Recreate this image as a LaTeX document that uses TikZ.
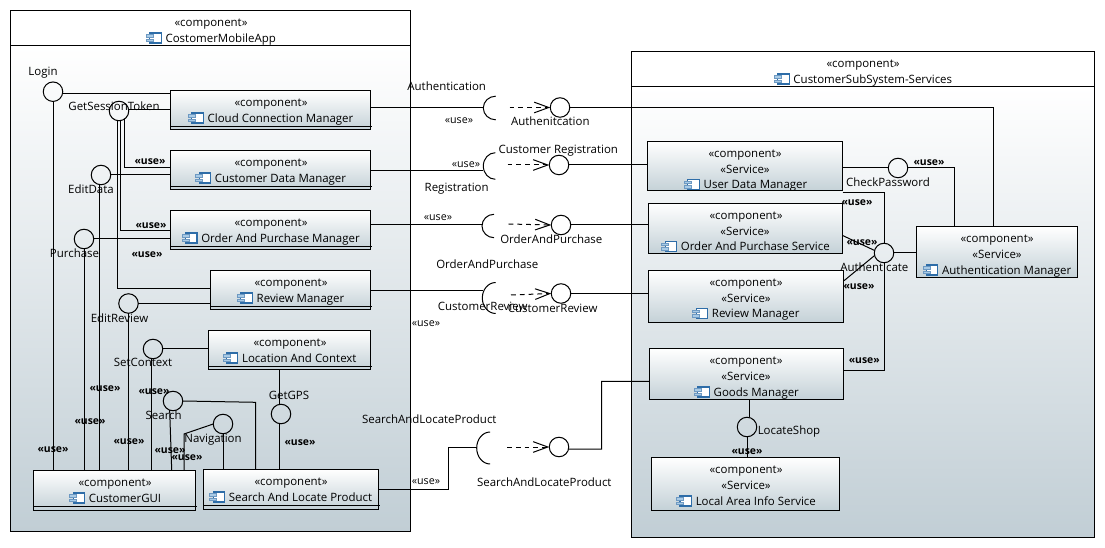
\documentclass[tikz,border=0pt]{standalone}
\usepackage{fontspec}
\setmainfont{Open Sans}
\usetikzlibrary{arrows.meta}

\definecolor{panelLow}{HTML}{C1CED5}
\definecolor{boxLow}{HTML}{C4D1D7}
\definecolor{iconBlue}{HTML}{2E6DA8}
\definecolor{tabBlue}{HTML}{A9CBE6}

\begin{document}
\begin{tikzpicture}[
    x=.75pt, y=-.75pt, every node/.style={font=\fontsize{8.6}{10}\selectfont, inner sep=0pt, text height=6.2pt, text depth=0pt},
    sized/.style 2 args={minimum width=#1*.75pt, minimum height=#2*.75pt},
    panelHead/.style={rectangle, draw=black, line width=.75pt, fill=white, outer sep=0pt},
    panelBody/.style={rectangle, draw=black, line width=.75pt, top color=white, bottom color=panelLow, outer sep=0pt},
    compBox/.style={rectangle, draw=black, line width=.75pt, top color=white, bottom color=boxLow, outer sep=0pt},
    iface/.style={circle, draw=black, line width=.75pt, minimum size=19.5*.75pt, outer sep=0pt},
    conn/.style={draw=black, line width=.75pt},
    depend/.style={draw=black, line width=.75pt, dash pattern=on 3.6pt off 3pt, -{Straight Barb[length=11pt, width=8pt, line width=.75pt]}},
    useBold/.style={font=\fontsize{7.8}{10}\selectfont\bfseries},
    useThin/.style={font=\fontsize{8}{10}\selectfont},
    compicon/.pic={
        \draw[iconBlue, fill=white, line width=.8pt] (-11.5,-5) rectangle (0,5);
        \draw[iconBlue!70, fill=tabBlue, line width=.4pt] (-15,-3.5) rectangle (-8,-1);
        \draw[iconBlue!70, fill=tabBlue, line width=.4pt] (-15,1) rectangle (-8,3.5);
    }
]
    \useasboundingbox (0,0) rectangle (1105,548);

    % left panel
    \node[panelBody, sized={400}{485}] (appBody) at (210.5,288.5) {};
    \node[panelHead, sized={400}{35.5}] (appHead) at (210.5,28.25) {};
    \node (appT) at (211,22) {«component»};
    \node (appN) at (220.7,38) {CostomerMobileApp};
    \path ([xshift=-3pt]appN.west) pic {compicon};

    % right panel
    \node[panelBody, sized={462.5}{450}] (subBody) at (862.75,312) {};
    \node[panelHead, sized={462.5}{35}] (subHead) at (862.75,69.5) {};
    \node (subT) at (863,63.3) {«component»};
    \node (subN) at (872.8,79) {CustomerSubSystem-Services};
    \path ([xshift=-3pt]subN.west) pic {compicon};

    % components, left
    \node[compBox, sized={200}{39.5}] (cloud) at (270.5,110.25) {};
    \node (cloudT) at (271,102) {«component»};
    \node (cloudN) at (280.5,118) {Cloud Connection Manager};
    \path ([xshift=-3pt]cloudN.west) pic {compicon};
    \draw[conn] (170.5,126.5) -- (371.5,126.5);

    \node[compBox, sized={200}{39.5}] (custData) at (270.5,170.25) {};
    \node (custDataT) at (271,162) {«component»};
    \node (custDataN) at (280.5,178) {Customer Data Manager};
    \path ([xshift=-3pt]custDataN.west) pic {compicon};
    \draw[conn] (170.5,186.5) -- (371.5,186.5);

    \node[compBox, sized={200}{39.5}] (orderMgr) at (270.5,230.25) {};
    \node (orderMgrT) at (271,222) {«component»};
    \node (orderMgrN) at (280.5,238) {Order And Purchase Manager};
    \path ([xshift=-3pt]orderMgrN.west) pic {compicon};
    \draw[conn] (170.5,246.5) -- (371.5,246.5);

    \node[compBox, sized={160}{39.5}] (reviewMgr) at (290.5,290.25) {};
    \node (reviewMgrT) at (291,282) {«component»};
    \node (reviewMgrN) at (300.5,298) {Review Manager};
    \path ([xshift=-3pt]reviewMgrN.west) pic {compicon};
    \draw[conn] (210.5,306.5) -- (371.5,306.5);

    \node[compBox, sized={162}{39.5}] (location) at (289.5,350.25) {};
    \node (locationT) at (290,342) {«component»};
    \node (locationN) at (299.3,358) {Location And Context};
    \path ([xshift=-3pt]locationN.west) pic {compicon};
    \draw[conn] (208.5,366.5) -- (371.5,366.5);

    \node[compBox, sized={162}{40}] (gui) at (114.5,490) {};
    \node (guiT) at (115,482) {«component»};
    \node (guiN) at (125,498) {CustomerGUI};
    \path ([xshift=-3pt]guiN.west) pic {compicon};
    \draw[conn] (33.5,506.5) -- (196.5,506.5);

    \node[compBox, sized={175}{39.5}] (locate) at (291,489.25) {};
    \node (locateT) at (291,481) {«component»};
    \node (locateN) at (300.5,497) {Search And Locate Product};
    \path ([xshift=-3pt]locateN.west) pic {compicon};
    \draw[conn] (203.5,505.5) -- (379.5,505.5);

    % components, right
    \node[compBox, sized={195}{49.5}] (userData) at (745,166.25) {};
    \node (userDataT) at (745,153.3) {«component»};
    \node (userDataS) at (745,169) {«Service»};
    \node (userDataN) at (755.5,184.7) {User Data Manager};
    \path ([xshift=-3pt]userDataN.west) pic {compicon};

    \node[compBox, sized={194}{50}] (orderSvc) at (745.5,228.5) {};
    \node (orderSvcT) at (746,215.3) {«component»};
    \node (orderSvcS) at (745,231) {«Service»};
    \node (orderSvcN) at (755.3,246.7) {Order And Purchase Service};
    \path ([xshift=-3pt]orderSvcN.west) pic {compicon};

    \node[compBox, sized={195}{52}] (reviewSvc) at (746,296.5) {};
    \node (reviewSvcT) at (746,282.3) {«component»};
    \node (reviewSvcS) at (746,298) {«Service»};
    \node (reviewSvcN) at (755.7,313.7) {Review Manager};
    \path ([xshift=-3pt]reviewSvcN.west) pic {compicon};

    \node[compBox, sized={161}{51.5}] (authMgr) at (997,252.25) {};
    \node (authMgrT) at (997,238.3) {«component»};
    \node (authMgrS) at (997,254) {«Service»};
    \node (authMgrN) at (1006.7,270) {Authentication Manager};
    \path ([xshift=-3pt]authMgrN.west) pic {compicon};

    \node[compBox, sized={194}{51}] (goods) at (746.5,374) {};
    \node (goodsT) at (746,360) {«component»};
    \node (goodsS) at (746,376) {«Service»};
    \node (goodsN) at (756.3,392) {Goods Manager};
    \path ([xshift=-3pt]goodsN.west) pic {compicon};

    \node[compBox, sized={188}{52.5}] (localArea) at (745.5,483.75) {};
    \node (localAreaT) at (746,469) {«component»};
    \node (localAreaS) at (746,485) {«Service»};
    \node (localAreaN) at (755.8,501) {Local Area Info Service};
    \path ([xshift=-3pt]localAreaN.west) pic {compicon};

    % provided interfaces, left
    \node[iface] (login) at (53,91.7) {};
    \node[iface] (token) at (119,111) {};
    \node[iface] (editData) at (101,175) {};
    \node[iface] (purchase) at (84,239) {};
    \node[iface] (editReview) at (128.5,303.5) {};
    \node[iface] (setContext) at (153,349) {};
    \node[iface] (search) at (173,401) {};
    \node[iface] (navigation) at (223,424) {};
    \node[iface] (getGps) at (281,414) {};

    % provided interfaces, right
    \node[iface] (ifAuth) at (560,107.5) {};
    \node[iface] (ifReg) at (559,165) {};
    \node[iface] (ifOrder) at (561,225) {};
    \node[iface] (ifReview) at (561,293.5) {};
    \node[iface] (ifLocate) at (559,447) {};
    \node[iface] (checkPwd) at (898,168) {};
    \node[iface] (authIf) at (884,253) {};
    \node[iface] (locShop) at (747,427) {};

    % sockets
    \coordinate (sockAuth) at (483.3,108);
    \coordinate (sockReg) at (483.3,166);
    \coordinate (sockOrder) at (482,226);
    \coordinate (sockReview) at (482.3,298);
    \coordinate (sockLocate) at (476.7,448);
    \draw[conn] (sockAuth) ++(12.4,-11.8) arc[start angle=-90, end angle=-270, x radius=12.4, y radius=11.8];
    \draw[conn] (sockReg) ++(12,-13.3) arc[start angle=-90, end angle=-270, x radius=12, y radius=13.3];
    \draw[conn] (sockOrder) ++(12,-11.7) arc[start angle=-90, end angle=-270, x radius=12, y radius=11.7];
    \draw[conn] (sockReview) ++(13.4,-15.5) arc[start angle=-90, end angle=-270, x radius=13.4, y radius=15.5];
    \draw[conn] (sockLocate) ++(13.4,-16) arc[start angle=-90, end angle=-270, x radius=13.4, y radius=16];

    % dependencies
    \coordinate (dashAuth) at (509.5,107.5);
    \coordinate (dashReg) at (507.5,165);
    \coordinate (dashOrder) at (508.5,224);
    \coordinate (dashReview) at (511,295);
    \coordinate (dashLocate) at (507,447);
    \draw[depend] (dashAuth) -- (ifAuth.west);
    \draw[depend] (dashReg) -- (ifReg.west);
    \draw[depend] (dashOrder) -- (ifOrder.west);
    \draw[depend] (dashReview) -- (ifReview.west);
    \draw[depend] (dashLocate) -- (ifLocate.west);

    % connectors, left
    \draw[conn] (login.-10) -- (cloud.west |- login.-10);
    \draw[conn] (login.south) -- (login.south |- gui.north);
    \draw[conn] (token.10) -- (cloud.west |- token.10);
    \draw[conn] (token.-57) |- ([yshift=1.9pt]custData.west);
    \draw[conn] (token.-82) |- (orderMgr.west);
    \draw[conn] (token.-98) |- ([yshift=1.5pt]reviewMgr.west);
    \draw[conn] (editData.east) -- (custData.west |- editData.east);
    \draw[conn] (editData.-100) -- (editData.-100 |- gui.north);
    \draw[conn] (purchase.east) -- (orderMgr.west |- purchase.east);
    \draw[conn] (purchase.south) -- (purchase.south |- gui.north);
    \draw[conn] (editReview.east) -- (reviewMgr.west |- editReview.east);
    \draw[conn] (editReview.south) -- (editReview.south |- gui.north);
    \draw[conn] (setContext.east) -- (location.west |- setContext.east);
    \draw[conn] (setContext.-100) -- (setContext.-100 |- gui.north);
    \coordinate (searchIn) at (255.7,402.3);
    \draw[conn] (search.east) -- (searchIn) -- (searchIn |- locate.north);
    \coordinate (searchOut) at (171.7,470);
    \draw[conn] (search.-110) -- (searchOut);
    \coordinate (navBend) at (184,434);
    \draw[conn] (navigation.west) -- (navBend) -- (navBend |- gui.north);
    \draw[conn] (navigation.south) -- (navigation.south |- locate.north);
    \coordinate (gpsTop) at (279.3,404);
    \draw[conn] (gpsTop |- location.south) -- (gpsTop);
    \draw[conn] (getGps.-100) -- (getGps.-100 |- locate.north);

    % connectors, between panels
    \coordinate (cloudOut) at ([yshift=2.2pt]cloud.east);
    \draw[conn] (cloudOut) -- (cloudOut -| sockAuth);
    \coordinate (custOut) at ([yshift=-.4pt]custData.east);
    \draw[conn] (custOut) -- (custOut -| sockReg);
    \coordinate (orderOut) at ([yshift=4.4pt]orderMgr.east);
    \draw[conn] (orderOut) -- (orderOut -| sockOrder);
    \coordinate (reviewOut) at (reviewMgr.east);
    \draw[conn] (reviewOut) -- ([xshift=.7pt]reviewOut -| sockReview);
    \coordinate (locBend) at (448.3,447.5);
    \coordinate (locateOut) at (locate.east);
    \draw[conn] (locateOut) -| (locBend) -- (sockLocate |- locBend);
    \coordinate (authBend) at (993.3,107.5);
    \draw[conn] (ifAuth.east) -- (authBend) -- (authBend |- authMgr.north);
    \draw[conn] (ifReg.east) -- (userData.west |- ifReg.east);
    \draw[conn] (ifOrder.east) -- (orderSvc.west |- ifOrder.east);
    \draw[conn] (ifReview.east) -- (reviewSvc.west |- ifReview.east);
    \coordinate (goodsBend) at (601.7,449);
    \draw[conn] (ifLocate.-12) -- (goodsBend) |- ([yshift=-5.5pt]goods.west);

    % connectors, right
    \draw[conn] (userData.east |- checkPwd.west) -- (checkPwd.west);
    \coordinate (pwdBend) at (954.3,168);
    \draw[conn] (checkPwd.east) -- (pwdBend) -- (pwdBend |- authMgr.north);
    \coordinate (userOut) at (842.5,192.7);
    \draw[conn] (userOut) -| (authIf.north);
    \coordinate (orderTap) at (843,235.7);
    \draw[conn] (orderTap) -- (authIf.165);
    \coordinate (reviewTap) at (844,280.7);
    \draw[conn] (reviewTap) -- (authIf.195);
    \draw[conn] (authIf.east) -- (authMgr.west |- authIf.east);
    \coordinate (goodsOut) at (843.5,370.3);
    \draw[conn] (goodsOut) -| (authIf.south);
    \coordinate (shopTop) at (749.3,417);
    \draw[conn] (shopTop |- goods.south) -- (shopTop);
    \draw[conn] (locShop.south) -- (locShop.south |- localArea.north);

    % labels, left
    \node (lblLogin) at (43,71) {Login};
    \node (lblToken) at (114,106) {GetSessionToken};
    \node (lblEditData) at (91,189) {EditData};
    \node (lblPurchase) at (74.5,253) {Purchase};
    \node (lblEditReview) at (119.5,318) {EditReview};
    \node (lblSetContext) at (143,362.7) {SetContext};
    \node (lblSearch) at (163.7,415) {Search};
    \node (lblNavigation) at (213,438) {Navigation};
    \node (lblGetGps) at (289,395.7) {GetGPS};
    \node[useBold] (useCust) at (150,160) {«use»};
    \node[useBold] (useOrder) at (151,224.7) {«use»};
    \node[useBold] (useReview) at (147,253.3) {«use»};
    \node[useBold] (useEdit) at (105,387.3) {«use»};
    \node[useBold] (usePurchase) at (90,420.3) {«use»};
    \node[useBold] (useLogin) at (53,448.3) {«use»};
    \node[useBold] (useEditRev) at (129,440.7) {«use»};
    \node[useBold] (useContext) at (154,390.3) {«use»};
    \node[useBold] (useSearch) at (170,449.7) {«use»};
    \node[useBold] (useNav) at (187,456.3) {«use»};
    \node[useBold] (useGps) at (300,441.3) {«use»};

    % labels, between panels
    \node (lblAuth) at (446.7,86) {Authentication};
    \node[useThin] (useAuth) at (459,119.3) {«use»};
    \node (lblAuthen) at (550.3,121) {Authenitcation};
    \node (lblCustReg) at (558.3,149) {Customer Registration};
    \node[useThin] (useReg) at (466,163.7) {«use»};
    \node (lblReg) at (456.7,187) {Registration};
    \node[useThin] (useOrd) at (438,216.3) {«use»};
    \node (lblOrdRight) at (551.3,239) {OrderAndPurchase};
    \node (lblOrdLeft) at (487.3,264) {OrderAndPurchase};
    \node (lblRevLeft) at (482.7,306) {CustomerReview};
    \node (lblRevRight) at (552.7,308) {CustomerReview};
    \node[useThin] (useRev) at (426,322.7) {«use»};
    \node (lblLocLeft) at (429.3,419) {SearchAndLocateProduct};
    \node (lblLocRight) at (544.3,482) {SearchAndLocateProduct};
    \node[useThin] (useLoc) at (426,480.7) {«use»};

    % labels, right
    \node[useBold] (usePwd) at (929,161.3) {«use»};
    \node (lblPwd) at (888,182) {CheckPassword};
    \node[useBold] (useUser) at (857,201.7) {«use»};
    \node[useBold] (useOrdSvc) at (862,241.3) {«use»};
    \node (lblAuthIf) at (874.3,267) {Authenticate};
    \node[useBold] (useRevSvc) at (859,285.7) {«use»};
    \node[useBold] (useGoods) at (864.3,359.3) {«use»};
    \node (lblShop) at (789,430.3) {LocateShop};
    \node[useBold] (useShop) at (747,450.3) {«use»};
\end{tikzpicture}
\end{document}
